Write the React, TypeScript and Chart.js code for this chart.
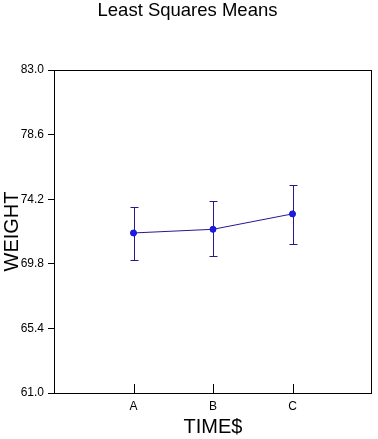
import React, { useEffect, useRef } from "react";
import { Chart, registerables } from "chart.js";

Chart.register(...registerables);

const categories = ["A", "B", "C"];
const means = [71.9, 72.15, 73.2];
const upper = [73.65, 74.1, 75.2];
const lower = [70.05, 70.35, 71.15];
const yTicks = [61.0, 65.4, 69.8, 74.2, 78.6, 83.0];

const LINE = "#2e1490";
const POINT = "#1c1ce0";
const FONT = "'Liberation Sans', Arial, sans-serif";

export default function App() {
  const ref = useRef<HTMLCanvasElement | null>(null);

  useEffect(() => {
    if (!ref.current) return;

    const framePlugin = {
      id: "frameAndBars",
      afterDatasetsDraw(chart: any) {
        const { ctx, chartArea, scales } = chart;
        const xs = scales.x;
        const ys = scales.y;
        ctx.save();
        // frame
        ctx.strokeStyle = "#000";
        ctx.lineWidth = 1;
        ctx.strokeRect(
          Math.round(chartArea.left) + 0.5,
          Math.round(chartArea.top) + 0.5,
          Math.round(chartArea.right - chartArea.left) - 1,
          Math.round(chartArea.bottom - chartArea.top)
        );
        // inside x ticks
        categories.forEach((_, i) => {
          const px = Math.round(xs.getPixelForValue(i)) + 0.5;
          ctx.beginPath();
          ctx.moveTo(px, chartArea.bottom);
          ctx.lineTo(px, chartArea.bottom - 9);
          ctx.stroke();
        });
        // error bars
        ctx.strokeStyle = LINE;
        categories.forEach((_, i) => {
          const px = Math.round(xs.getPixelForValue(i)) + 0.5;
          const yt = Math.round(ys.getPixelForValue(upper[i])) + 0.5;
          const yb = Math.round(ys.getPixelForValue(lower[i])) + 0.5;
          ctx.beginPath();
          ctx.moveTo(px, yt);
          ctx.lineTo(px, yb);
          ctx.moveTo(px - 4, yt);
          ctx.lineTo(px + 4, yt);
          ctx.moveTo(px - 4, yb);
          ctx.lineTo(px + 4, yb);
          ctx.stroke();
        });
        // redraw points on top
        ctx.fillStyle = POINT;
        categories.forEach((_, i) => {
          const px = xs.getPixelForValue(i);
          const py = ys.getPixelForValue(means[i]);
          ctx.beginPath();
          ctx.arc(px, py, 3, 0, Math.PI * 2);
          ctx.fill();
        });
        ctx.restore();
      },
    };

    const chart = new Chart(ref.current, {
      type: "line",
      data: {
        datasets: [
          {
            data: categories.map((_, i) => ({ x: i, y: means[i] })),
            borderColor: LINE,
            borderWidth: 1,
            pointRadius: 3,
            pointBackgroundColor: POINT,
            pointBorderColor: POINT,
            tension: 0,
          },
        ],
      },
      options: {
        animation: false,
        responsive: false,
        devicePixelRatio: 1,
        layout: { padding: { right: 3, left: 0, top: 0, bottom: 0 } },
        plugins: {
          legend: { display: false },
          tooltip: { enabled: false },
          title: {
            display: true,
            text: "Least Squares Means",
            color: "#000",
            font: { family: FONT, size: 18.5, weight: "normal" },
            padding: { top: 0, bottom: 47.8 },
          },
        },
        scales: {
          x: {
            type: "linear",
            min: -1,
            max: 3,
            afterBuildTicks(scale: any) {
              scale.ticks = [-1, 0, 1, 2, 3].map((v) => ({ value: v }));
            },
            afterFit(scale: any) {
              scale.height = 46;
            },
            grid: { display: false, drawTicks: false },
            border: { display: false },
            ticks: {
              color: "#000",
              font: { family: FONT, size: 12 },
              padding: 6,
              maxRotation: 0,
              autoSkip: false,
              callback: (v: any) => (categories[v as number] !== undefined && Number.isInteger(v) ? categories[v as number] : ""),
            },
            title: {
              display: true,
              text: "TIME$",
              color: "#000",
              font: { family: FONT, size: 20, weight: "normal" },
              padding: 0,
            },
          },
          y: {
            type: "linear",
            min: 61,
            max: 83,
            afterBuildTicks(scale: any) {
              scale.ticks = yTicks.map((v) => ({ value: v }));
            },
            afterFit(scale: any) {
              scale.width = 54;
            },
            grid: {
              display: true,
              drawOnChartArea: false,
              drawTicks: true,
              tickLength: 6,
              color: "#000",
            },
            border: { display: false },
            ticks: {
              color: "#000",
              font: { family: FONT, size: 12 },
              padding: 4,
              autoSkip: false,
              callback: (v: any) => Number(v).toFixed(1),
            },
            title: {
              display: true,
              text: "WEIGHT",
              color: "#000",
              font: { family: FONT, size: 20, weight: "normal" },
              padding: 0,
            },
          },
        },
      },
      plugins: [framePlugin],
    });

    return () => chart.destroy();
  }, []);

  return (
    <div style={{ position: "fixed", left: 0, top: 0, width: 378, height: 439, background: "#fff" }}>
      <canvas ref={ref} width={378} height={439} style={{ width: 378, height: 439 }} />
    </div>
  );
}
